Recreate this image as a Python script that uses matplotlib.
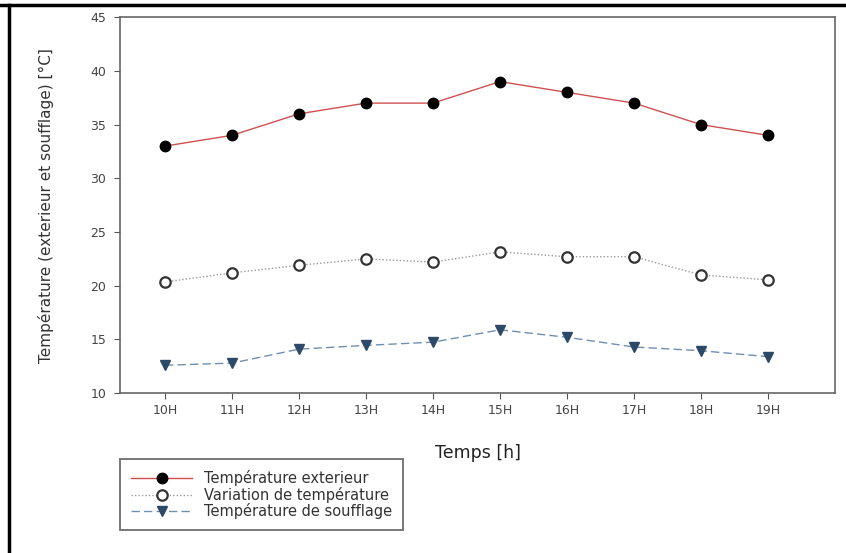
import matplotlib
matplotlib.use("Agg")
import matplotlib.pyplot as plt
from matplotlib.lines import Line2D

# Data
heures = ["10H", "11H", "12H", "13H", "14H", "15H", "16H", "17H", "18H", "19H"]
temp_ext = [33, 34, 36, 37, 37, 39, 38, 37, 35, 34]
variation = [20.35, 21.2, 21.9, 22.5, 22.2, 23.15, 22.7, 22.7, 21.0, 20.55]
soufflage = [12.6, 12.8, 14.1, 14.45, 14.75, 15.9, 15.2, 14.3, 13.95, 13.4]

plt.rcParams['font.family'] = ['DejaVu Sans']

fig = plt.figure(figsize=(8.46, 5.53), dpi=100)
ax = fig.add_axes([0.142, 0.289, 0.845, 0.68])

x = list(range(len(heures)))

ax.plot(x, temp_ext, color='#d05050', linewidth=1.0, marker='o',
        markersize=7.5, markerfacecolor='black', markeredgecolor='black',
        label="Température exterieur")
ax.plot(x, variation, color='#9a9a9a', linewidth=1.0, linestyle=(0, (1, 1.5)),
        marker='o', markersize=7.5, markerfacecolor='white',
        markeredgecolor='#333333', markeredgewidth=1.6,
        label="Variation de température")
ax.plot(x, soufflage, color='#6f8fb0', linewidth=1.0, linestyle=(0, (6, 3)),
        marker='v', markersize=7.5, markerfacecolor='#2c4a68',
        markeredgecolor='#2c4a68', label="Température de soufflage")

ax.set_xlim(-0.67, 10)
ax.set_ylim(10, 45)
ax.set_xticks(x)
ax.set_xticklabels(heures)
ax.set_yticks(range(10, 46, 5))
ax.tick_params(axis='both', labelsize=9, color='#555555', labelcolor='#444444',
               direction='out', length=4)
ax.tick_params(axis='y', pad=6)
for s in ax.spines.values():
    s.set_color('#666666')
    s.set_linewidth(1.2)

ax.set_xlabel("Temps [h]", fontsize=12.5, color='#222222', labelpad=20)
ax.set_ylabel("Température (exterieur et soufflage) [°C]", fontsize=11,
              color='#333333')
ax.yaxis.set_label_coords(-0.092, 0.5)

leg = ax.legend(loc='upper left', bbox_to_anchor=(0.142, 0.17),
                bbox_transform=fig.transFigure, fontsize=10.5, frameon=True,
                fancybox=False, handlelength=4.2, borderpad=0.75,
                labelspacing=0.05, handletextpad=0.8, borderaxespad=0)
leg.get_frame().set_edgecolor('#555555')
leg.get_frame().set_linewidth(1.4)
for t in leg.get_texts():
    t.set_color('#333333')

# black frame of the page around the figure
fig.add_artist(Line2D([0, 1], [0.991, 0.991], transform=fig.transFigure,
                      color='black', linewidth=2.5))
fig.add_artist(Line2D([0.011, 0.011], [0, 0.991], transform=fig.transFigure,
                      color='black', linewidth=2.5))

fig.savefig("out.png", dpi=100)
